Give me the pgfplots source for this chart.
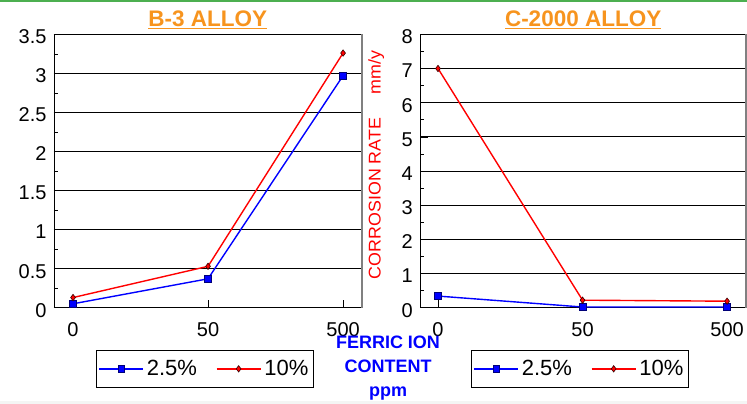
\documentclass[border=0pt]{standalone}
\usepackage{fontspec}
\setmainfont{Liberation Sans}
\usepackage{pgfplots}
\pgfplotsset{compat=1.18}

\definecolor{ttlorange}{RGB}{247,148,30}
\definecolor{topgreen}{RGB}{76,175,80}
\definecolor{mkblue}{RGB}{0,0,200}

\pgfplotsset{
  corr/.style={
    scale only axis, height=273.4pt,
    clip=false,
    xtick={0,1,2}, xticklabels={0,50,500},
    tick align=inside, xtick pos=bottom, ytick pos=left,
    major tick length=8pt, minor tick length=4pt,
    minor y tick num=1,
    ymajorgrids, grid style={black, line width=0.7pt},
    axis line style={black, line width=0.8pt},
    tick style={black, line width=0.6pt},
    /pgf/number format/assume math mode=true,
    ticklabel style={font=\fontsize{20}{20}\selectfont},
    xticklabel style={yshift=-11pt},
    yticklabel style={xshift=-4pt, yshift=-2.5pt},
    title style={font=\bfseries\fontsize{22.5}{22.5}\selectfont, text=ttlorange,
      at={(0.5,1)}, anchor=base, yshift=2pt},
    legend columns=2,
    legend image code/.code={%
      \draw[mark repeat=2, mark phase=2, #1]
        plot coordinates {(0pt,0pt) (22pt,0pt) (44pt,0pt)};},
    legend style={draw=black, line width=0.8pt, anchor=north west,
      font=\fontsize{22}{22}\selectfont,
      inner ysep=6pt, inner xsep=2pt,
      nodes={inner xsep=3pt, inner ysep=4pt},
      /tikz/every even column/.append style={column sep=16pt}},
  },
  low/.style={blue, line width=1.4pt, mark=square*,
    mark size=3.3pt, mark options={fill=blue, draw=mkblue!60!black, line width=0.6pt}},
  high/.style={red, line width=1.4pt, mark=diamond*,
    mark size=3.2pt, mark options={fill=red, draw=black!80!red, line width=0.6pt}},
}

\begin{document}
\begin{tikzpicture}
\useasboundingbox (0,0) rectangle (747pt,404pt);
\fill[white] (0,0) rectangle (747pt,404pt);
\fill[topgreen] (0,402pt) rectangle (747pt,404pt);
\fill[green!4!gray!8] (0,0) rectangle (747pt,3pt);

% B-3 alloy
\begin{axis}[corr, at={(54pt,96.3pt)}, anchor=south west,
  width=307.7pt, xmin=-0.141, xmax=2.138,
  ymin=0, ymax=3.5, ytick={0,0.5,...,3.5},
  title={\underline{B-3 ALLOY}},
  legend style={at={(0.1365,-0.1547)}}]
\addplot[low] coordinates {(0,0.05) (1,0.37) (2,2.97)};
\addplot[high] coordinates {(0,0.13) (1,0.53) (2,3.26)};
\legend{2.5\%,10\%}
\draw[gray, line width=1.6pt] (rel axis cs:1,0) -- (rel axis cs:1,1);
\end{axis}

% C-2000 alloy
\begin{axis}[corr, at={(420.3pt,96.3pt)}, anchor=south west,
  width=325.7pt, xmin=-0.1225, xmax=2.131,
  ymin=0, ymax=8, ytick={0,1,...,8},
  title={\underline{C-2000 ALLOY}},
  legend style={at={(0.1557,-0.1547)}}]
\addplot[low] coordinates {(0,0.34) (1,0.02) (2,0.02)};
\addplot[high] coordinates {(0,7.0) (1,0.22) (2,0.19)};
\legend{2.5\%,10\%}
\draw[gray, line width=1.6pt] (rel axis cs:1,0) -- (rel axis cs:1,1);
\end{axis}

\node[rotate=90, text=red, font=\fontsize{17}{17}\selectfont]
  at (376.2pt,239pt) {\scalebox{1.05}[1]{CORROSION RATE\hspace{1.3em}mm/y}};
\node[align=center, text=blue, font=\bfseries\fontsize{18}{24}\selectfont]
  at (388pt,36pt) {FERRIC ION\\CONTENT\\ppm};
\end{tikzpicture}
\end{document}
